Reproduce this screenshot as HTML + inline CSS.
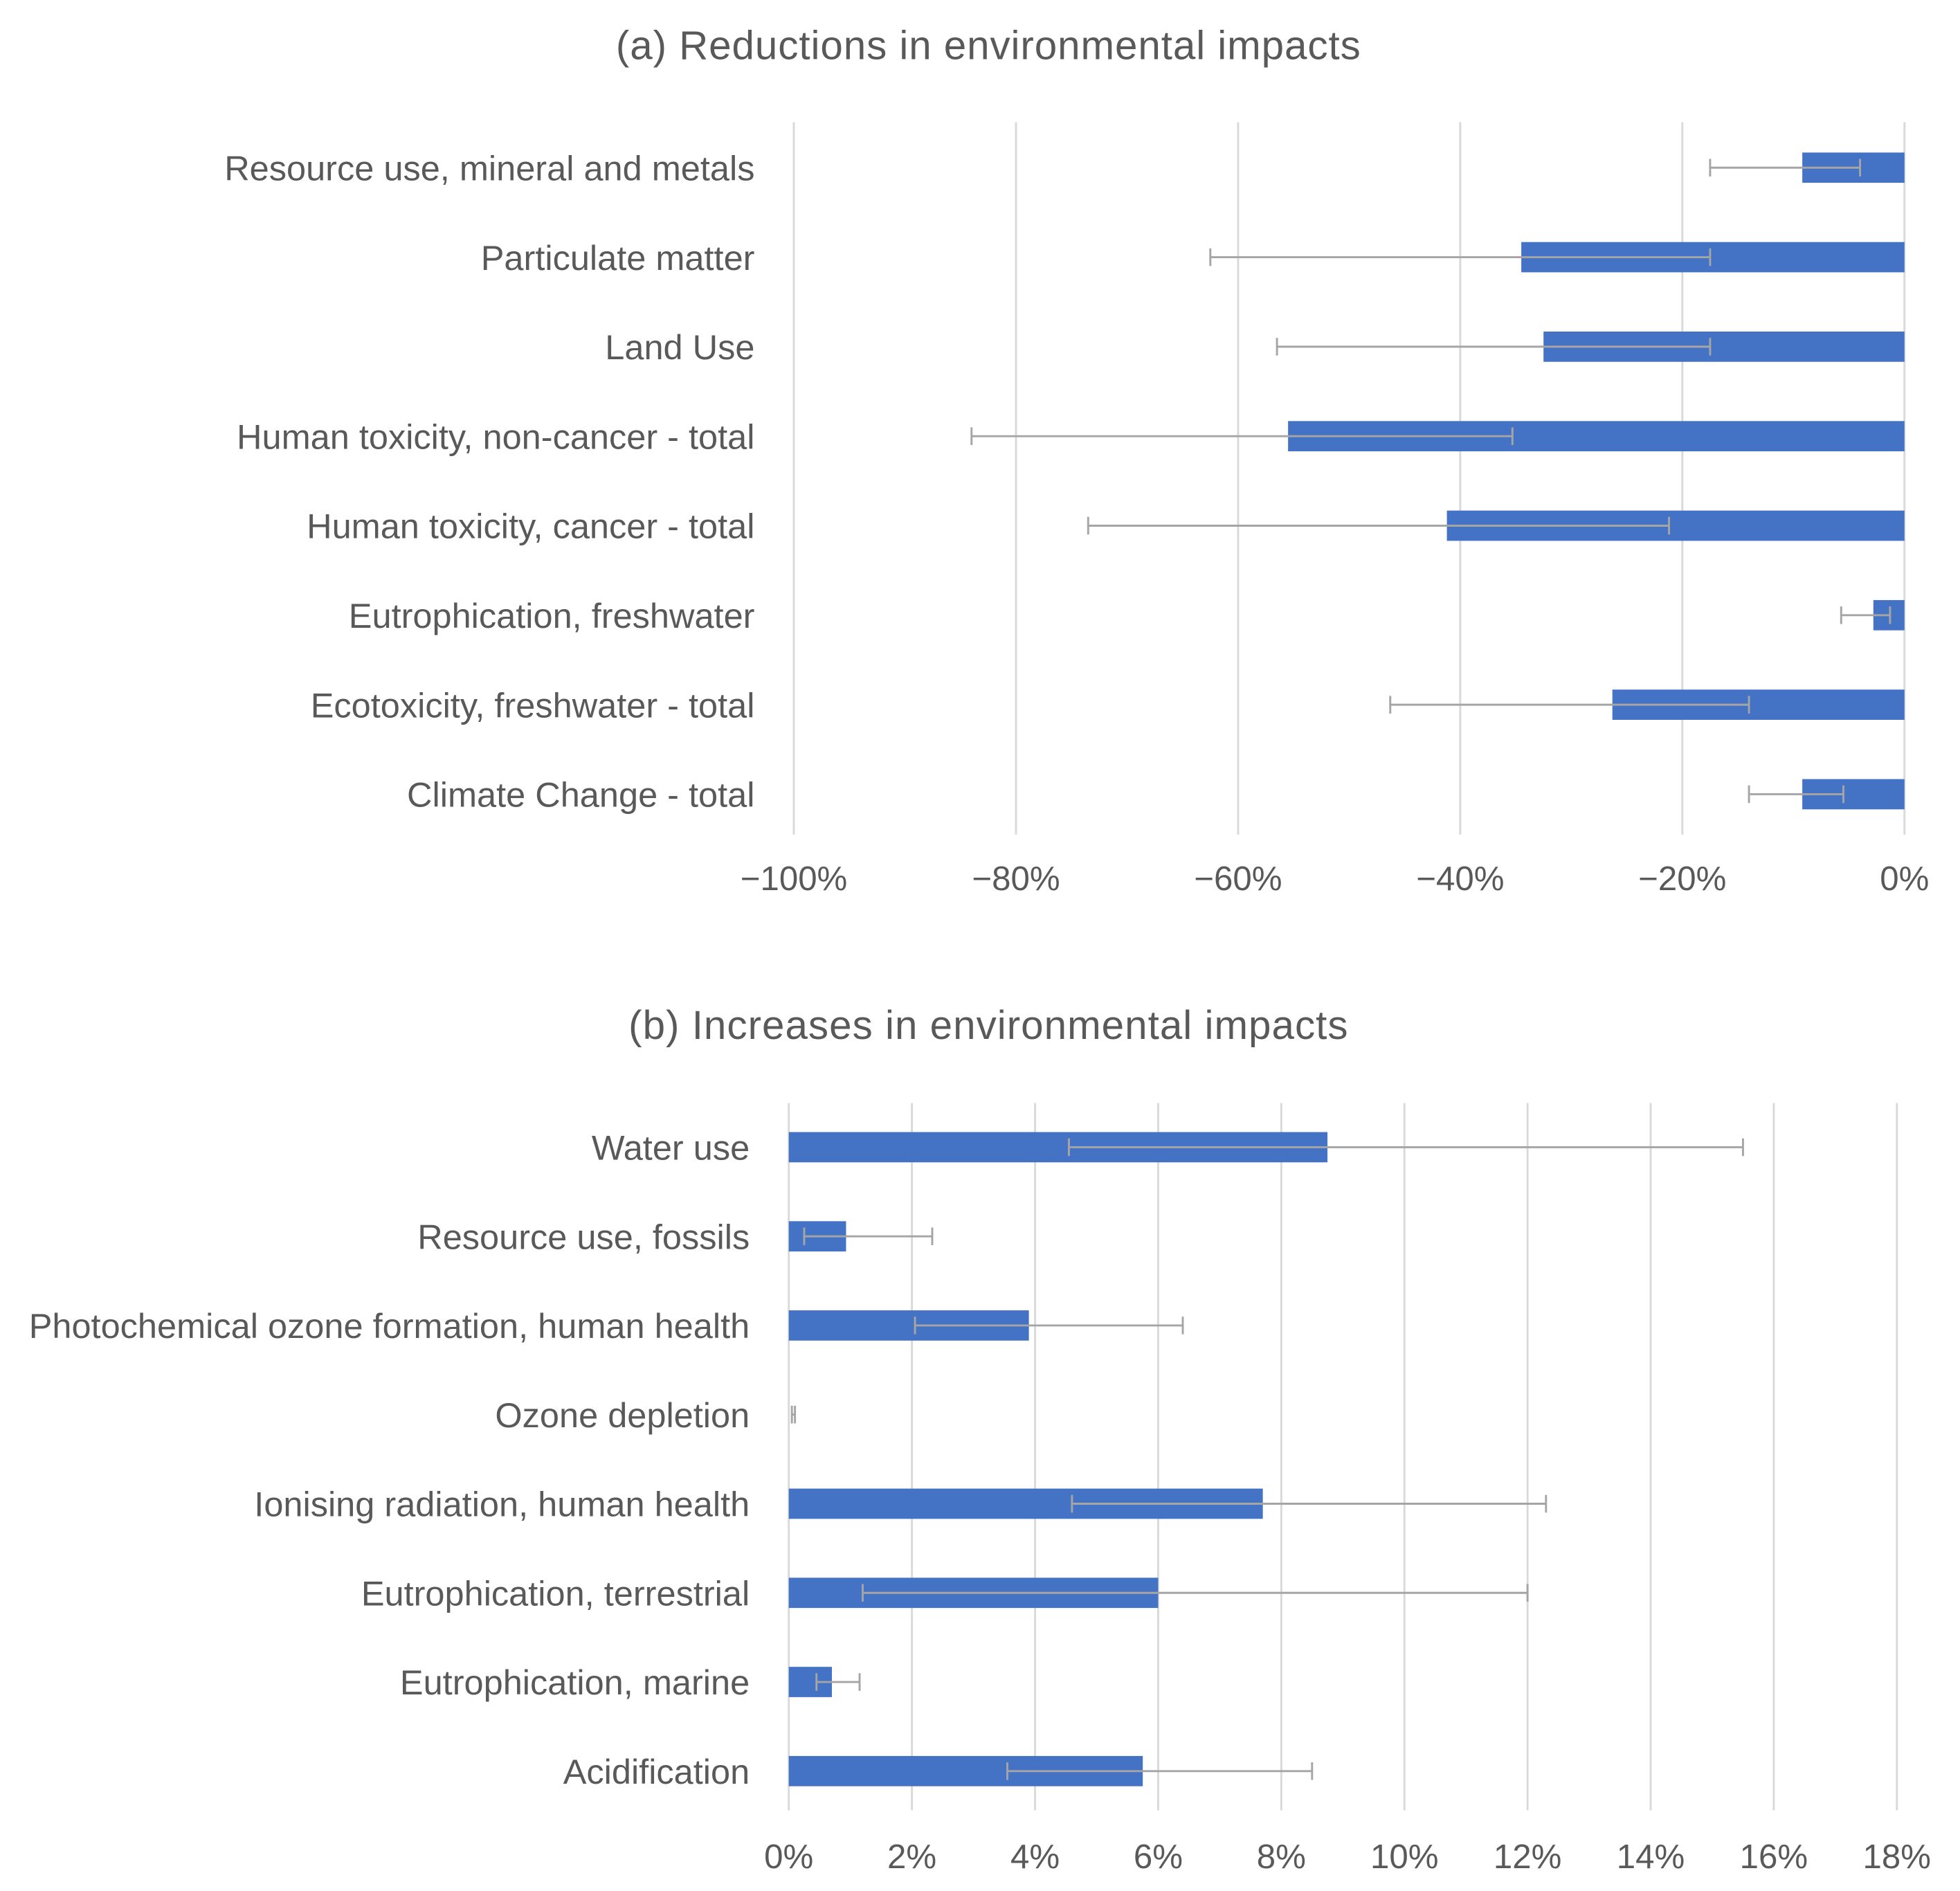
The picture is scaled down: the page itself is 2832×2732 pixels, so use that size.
<!DOCTYPE html>
<html><head><meta charset="utf-8"><style>
html,body{margin:0;padding:0;background:#fff;}
svg{display:block;}
text{font-family:"Liberation Sans",Arial,sans-serif;fill:#595959;}
</style></head><body>
<svg id="chart" width="2832" height="2732" viewBox="0 0 1553 1500" preserveAspectRatio="none" xmlns="http://www.w3.org/2000/svg">
<rect width="1553" height="1500" fill="#fff"/>
<text x="783" y="47" font-size="32" text-anchor="middle" textLength="590">(a) Reductions in environmental impacts</text>
<text x="783" y="824" font-size="32" text-anchor="middle" textLength="570">(b) Increases in environmental impacts</text>
<g id="pa"></g>
<g id="pb"></g>
</svg>
<script>
const catsA = ["Resource use, mineral and metals","Particulate matter","Land Use","Human toxicity, non-cancer - total","Human toxicity, cancer - total","Eutrophication, freshwater","Ecotoxicity, freshwater - total","Climate Change - total"];
const valsA = [-9.2,-34.5,-32.5,-55.5,-41.2,-2.8,-26.3,-9.2];
const errLoA = [-17.5,-62.5,-56.5,-84,-73.5,-5.7,-46.3,-14];
const errHiA = [-4,-17.5,-17.5,-35.3,-21.2,-1.3,-14,-5.5];
const ticksA = [-100,-80,-60,-40,-20,0];
const tickLabelsA = ["\u2212100%","\u221280%","\u221260%","\u221240%","\u221220%","0%"];

const catsB = ["Water use","Resource use, fossils","Photochemical ozone formation, human health","Ozone depletion","Ionising radiation, human health","Eutrophication, terrestrial","Eutrophication, marine","Acidification"];
const valsB = [8.75,0.93,3.9,0,7.7,6.0,0.7,5.75];
const errLoB = [4.55,0.25,2.05,0.05,4.6,1.2,0.45,3.55];
const errHiB = [15.5,2.33,6.4,0.1,12.3,12.0,1.15,8.5];
const ticksB = [0,2,4,6,8,10,12,14,16,18];
const tickLabelsB = ["0%","2%","4%","6%","8%","10%","12%","14%","16%","18%"];

const NS="http://www.w3.org/2000/svg";
function mk(parent,tag,attrs){const e=document.createElementNS(NS,tag);for(const k in attrs)e.setAttribute(k,attrs[k]);parent.appendChild(e);return e;}

function draw(g,cats,vals,lo,hi,ticks,tlabels,cfg){
  const x=v=>cfg.x0+(v-cfg.min)/(cfg.max-cfg.min)*(cfg.x1-cfg.x0);
  const y=i=>cfg.yc0+i*cfg.step;
  ticks.forEach((t,i)=>{
    const l=mk(g,'line',{x1:x(t),x2:x(t),y1:cfg.gt,y2:cfg.gb,stroke:'#d9d9d9','stroke-width':1.6});
    
    
    const tx=mk(g,'text',{x:x(t),y:cfg.ty,'font-size':27,'text-anchor':'middle'});
    tx.textContent=tlabels[i];
    
    
  });
  cats.forEach((c,i)=>{
    const cy=y(i);
    const lb=mk(g,'text',{x:cfg.lx,y:cy+10,'font-size':27.7,'text-anchor':'end'});
    lb.textContent=c;
    
    
    const a=x(Math.min(0,vals[i])),b=x(Math.max(0,vals[i]));
    if(b-a>0){
      const r=mk(g,'rect',{x:a,y:cy-12,width:b-a,height:24,fill:'#4472c4'});
      
      
    }
    const eg=mk(g,'g',{stroke:'#a5a5a5','stroke-width':1.6});
    
    
    mk(eg,'line',{x1:x(lo[i]),x2:x(hi[i]),y1:cy,y2:cy});
    mk(eg,'line',{x1:x(lo[i]),x2:x(lo[i]),y1:cy-7,y2:cy+7});
    mk(eg,'line',{x1:x(hi[i]),x2:x(hi[i]),y1:cy-7,y2:cy+7});
  });
}
draw(document.getElementById('pa'),catsA,valsA,errLoA,errHiA,ticksA,tickLabelsA,
  {x0:629,x1:1509,min:-100,max:0,yc0:133,step:71,gt:97,gb:662,ty:706,lx:598});
draw(document.getElementById('pb'),catsB,valsB,errLoB,errHiB,ticksB,tickLabelsB,
  {x0:625,x1:1503,min:0,max:18,yc0:910,step:70.7,gt:875,gb:1436,ty:1482,lx:594});
</script>
</body></html>
